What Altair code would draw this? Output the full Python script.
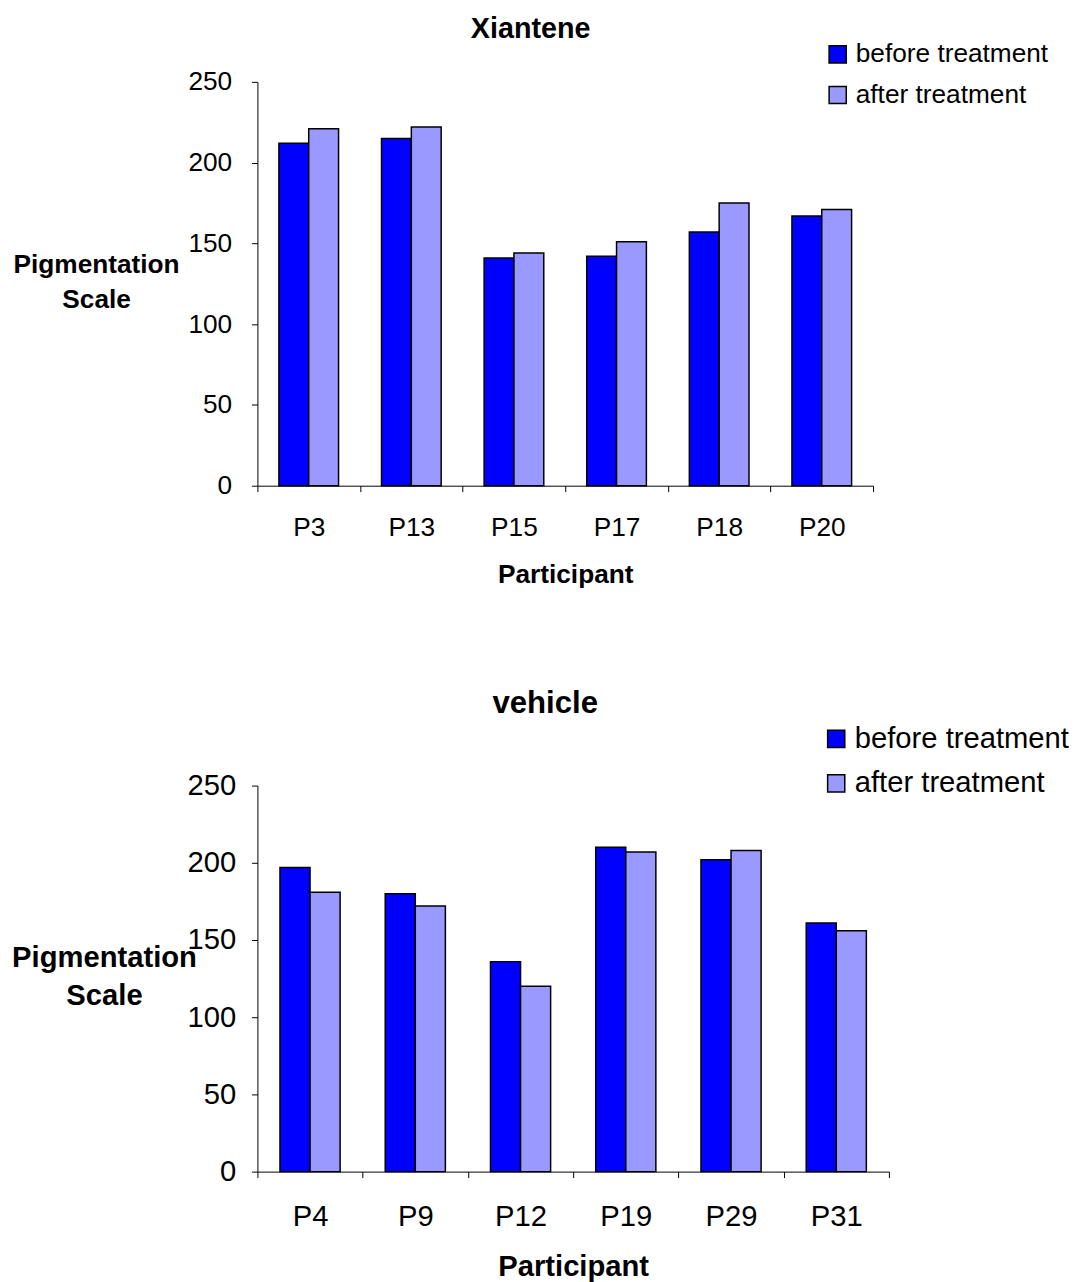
import altair as alt
import pandas as pd

FONT = "Liberation Sans"
series = ["before treatment", "after treatment"]
colors = ["#0000FF", "#9999FF"]
y_ticks = [0, 50, 100, 150, 200, 250]

# Xiantene panel
x_participants = ["P3", "P13", "P15", "P17", "P18", "P20"]
x_before = [212, 215, 141, 142, 157, 167]
x_after = [221, 222, 144, 151, 175, 171]

# vehicle panel
v_participants = ["P4", "P9", "P12", "P19", "P29", "P31"]
v_before = [197, 180, 136, 210, 202, 161]
v_after = [181, 172, 120, 207, 208, 156]


def panel(title, parts, before, after, w, h, fs, tfs, lx, ly, row_pad, lab_off,
          tx, ty, lh, pad_o, lab_pad_x, title_pad_x, lab_pad_y, title_off, title_dx):
    rows = []
    for p, b, a in zip(parts, before, after):
        rows.append({"participant": p, "series": series[0], "value": b})
        rows.append({"participant": p, "series": series[1], "value": a})
    df = pd.DataFrame(rows)
    return alt.Chart(df).mark_bar(stroke="black", strokeWidth=1.5).encode(
        x=alt.X("participant:N", sort=parts,
                scale=alt.Scale(paddingInner=0, paddingOuter=0),
                axis=alt.Axis(title="Participant", labelAngle=0, tickBand="extent",
                              tickSize=6, tickColor="black", domainColor="black",
                              labelFont=FONT, labelFontSize=fs, labelColor="black",
                              labelPadding=lab_pad_x, titleFont=FONT, titleFontSize=fs,
                              titleFontWeight="bold", titleColor="black",
                              titlePadding=title_pad_x)),
        xOffset=alt.XOffset("series:N", sort=series,
                            scale=alt.Scale(domain=series, paddingInner=0, paddingOuter=pad_o)),
        y=alt.Y("value:Q", scale=alt.Scale(domain=[0, 250], nice=False),
                axis=alt.Axis(values=y_ticks, grid=False, title=["Pigmentation", "Scale"],
                              titleAngle=0, titleAlign="center", titleBaseline="middle",
                              titleX=tx, titleY=ty, titleLineHeight=lh,
                              titleFont=FONT, titleFontSize=fs, titleFontWeight="bold",
                              titleColor="black", tickSize=6, tickColor="black",
                              domainColor="black", labelFont=FONT, labelFontSize=fs,
                              labelColor="black", labelPadding=lab_pad_y)),
        color=alt.Color("series:N", sort=series,
                        scale=alt.Scale(domain=series, range=colors),
                        legend=alt.Legend(title=None, orient="none", legendX=lx, legendY=ly,
                                          symbolType="square", symbolSize=300,
                                          symbolStrokeColor="black", symbolStrokeWidth=1.5,
                                          labelFont=FONT, labelFontSize=fs, labelColor="black",
                                          labelLimit=0,
                                          rowPadding=row_pad, padding=0, labelOffset=lab_off)),
    ).properties(
        width=w, height=h,
        title=alt.TitleParams(title, font=FONT, fontSize=tfs, fontWeight="bold",
                              anchor="middle", frame="bounds", color="black",
                              offset=title_off, dx=title_dx),
    )


top = panel("Xiantene", x_participants, x_before, x_after, 622, 408, 26.5, 29,
            573, -41, 14, 5, -163, 185, 35, 0.72, 23, 21, 20, -3, 0)
bottom = panel("vehicle", v_participants, v_before, v_after, 638, 390, 29.5, 31.5,
               570, -62, 14, 4, -155, 174, 38, 0.75, 25, 22, 16, 5, 5)

chart = alt.vconcat(top, bottom, spacing=101).resolve_scale(
    color="independent", x="independent", xOffset="independent"
).resolve_legend(color="independent").configure_view(stroke=None).properties(
    padding={"left": 3, "top": 1, "right": 5, "bottom": 5}
)

chart.save("out.html", embed_options={"renderer": "svg", "actions": False})
